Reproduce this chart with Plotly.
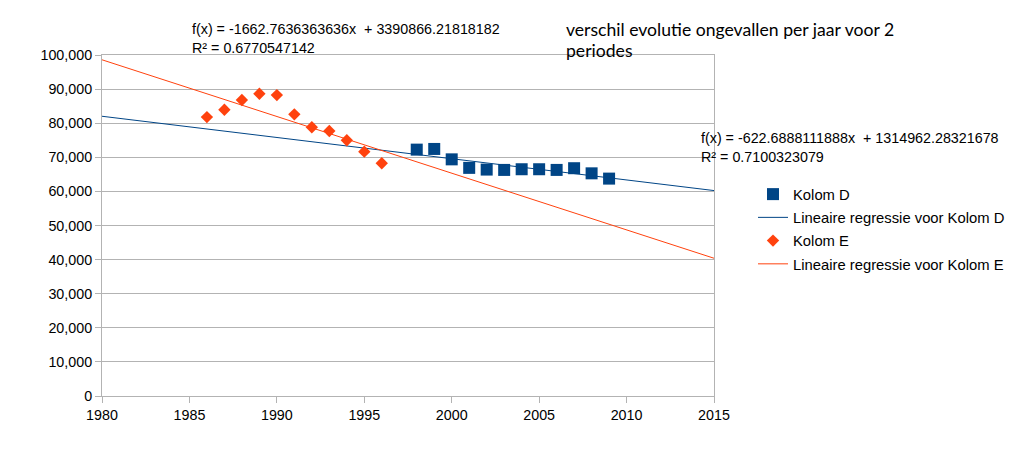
import plotly.graph_objects as go

# Kolom D (squares)
years_d = [1998, 1999, 2000, 2001, 2002, 2003, 2004, 2005, 2006, 2007, 2008, 2009]
values_d = [72250, 72450, 69400, 66900, 66400, 66300, 66500, 66500, 66300, 66800, 65300, 63750]

# Kolom E (diamonds)
years_e = [1986, 1987, 1988, 1989, 1990, 1991, 1992, 1993, 1994, 1995, 1996]
values_e = [81800, 83950, 86800, 88650, 88250, 82600, 78800, 77700, 75000, 71650, 68250]

# Regression coefficients (from the chart's equations)
slope_d, intercept_d = -622.6888111888, 1314962.28321678
slope_e, intercept_e = -1662.7636363636, 3390866.21818182
r2_d = "0.7100323079"
r2_e = "0.6770547142"

x_range = [1980, 2015]
y_ticks = list(range(0, 100001, 10000))
x_ticks = list(range(1980, 2016, 5))

col_d = "#004586"
col_e = "#ff420e"

W, H = 1005, 450            # page body has an 8px margin
L, R, T, B = 94, 706, 47, 388

fig = go.Figure()
fig.add_trace(go.Scatter(x=years_d, y=values_d, mode="markers", name="Kolom D", legendgroup="a",
                         marker=dict(symbol="square", size=12, color=col_d)))
fig.add_trace(go.Scatter(x=x_range, y=[slope_d * x + intercept_d for x in x_range], mode="lines",
                         name="Lineaire regressie voor Kolom D", legendgroup="b",
                         line=dict(color=col_d, width=1)))
fig.add_trace(go.Scatter(x=years_e, y=values_e, mode="markers", name="Kolom E", legendgroup="c",
                         marker=dict(symbol="diamond", size=9.5, color=col_e)))
fig.add_trace(go.Scatter(x=x_range, y=[slope_e * x + intercept_e for x in x_range], mode="lines",
                         name="Lineaire regressie voor Kolom E", legendgroup="d",
                         line=dict(color=col_e, width=1)))

def px(x):
    return (x - L) / (R - L)
def py(y):
    return (B - y) / (B - T)

font = dict(family="Liberation Sans, Arial, sans-serif", size=14.3, color="#000000")
tfont = dict(family="Lato, sans-serif", size=17.6, color="#000000")

annotations = [
    dict(x=px(182), y=py(30), xref="paper", yref="paper", xanchor="left", yanchor="middle",
         align="left", showarrow=False, font=font,
         text="f(x) = -1662.7636363636x  + 3390866.21818182<br>R² = " + r2_e),
    dict(x=px(691), y=py(139), xref="paper", yref="paper", xanchor="left", yanchor="middle",
         align="left", showarrow=False, font=font,
         text="f(x) = -622.6888111888x  + 1314962.28321678<br>R² = " + r2_d),
    dict(x=px(556), y=py(21), xref="paper", yref="paper", xanchor="left", yanchor="middle",
         align="left", showarrow=False, font=tfont,
         text="verschil evolutie ongevallen per jaar voor 2"),
    dict(x=px(556), y=py(42), xref="paper", yref="paper", xanchor="left", yanchor="middle",
         align="left", showarrow=False, font=tfont,
         text="periodes"),
]

fig.update_layout(
    width=W, height=H,
    margin=dict(l=L, r=W - R, t=T, b=H - B, pad=0),
    paper_bgcolor="white", plot_bgcolor="white",
    font=font,
    showlegend=True,
    legend=dict(x=745 / W, y=1 - 170 / H, xref="container", yref="container",
                xanchor="left", yanchor="top", font=dict(font, size=14.8),
                bgcolor="rgba(0,0,0,0)", tracegroupgap=1, itemwidth=30),
    annotations=annotations,
    xaxis=dict(range=x_range, tickvals=x_ticks, showgrid=False, showline=True, linecolor="#b3b3b3",
               linewidth=1, mirror=True, ticks="outside", ticklen=6, tickcolor="#b3b3b3",
               zeroline=False, tickfont=font),
    yaxis=dict(range=[0, 100000], tickvals=y_ticks, tickformat=",d", showgrid=True, gridcolor="#b3b3b3",
               gridwidth=1, showline=True, linecolor="#b3b3b3", linewidth=1, mirror=True,
               ticks="outside", ticklen=6, tickcolor="#b3b3b3", zeroline=False, tickfont=font),
)

fig.write_html("out.html")
